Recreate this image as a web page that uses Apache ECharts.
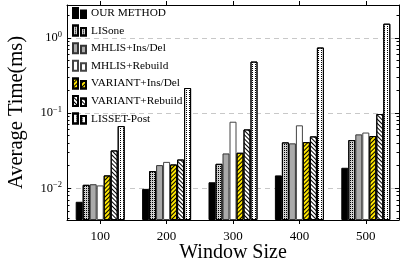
<!DOCTYPE html>
<html><head><meta charset="utf-8">
<script src="https://cdn.jsdelivr.net/npm/echarts@6/dist/echarts.min.js"></script>
<style>html,body{margin:0;padding:0;background:#fff}#c{width:400px;height:264px}</style>
</head><body><div id="c"></div>
<script>
const categories = ['100', '200', '300', '400', '500'];
const ourMethod      = [0.0066, 0.0098, 0.0120, 0.0148, 0.0187];
const lisone         = [0.0111, 0.0169, 0.0211, 0.0407, 0.0437];
const mhlisInsDel    = [0.0113, 0.0203, 0.0290, 0.0395, 0.0520];
const mhlisRebuild   = [0.0109, 0.0224, 0.0766, 0.0686, 0.0550];
const variantInsDel  = [0.0148, 0.0207, 0.0296, 0.0410, 0.0494];
const variantRebuild = [0.0318, 0.0241, 0.0605, 0.0489, 0.0970];
const lissetPost     = [0.0671, 0.215, 0.483, 0.743, 1.54];
const majorTicks = [0.01, 0.1, 1];
const minorTicks = [0.004, 0.005, 0.006, 0.007, 0.008, 0.009,
  0.02, 0.03, 0.04, 0.05, 0.06, 0.07, 0.08, 0.09,
  0.2, 0.3, 0.4, 0.5, 0.6, 0.7, 0.8, 0.9, 2];

const FONT = '"Liberation Serif", "DejaVu Serif", serif';
const yMin = 0.00378, yMax = 2.73;
function fmt(v) {
  const e = Math.round(Math.log10(v));
  return '10{s|' + (e < 0 ? '\u2212' : '') + Math.abs(e) + '}';
}
const dots = {symbol: 'rect', symbolSize: 1, dashArrayX: [1, 1], dashArrayY: [1, 1], color: '#000'};
const dots2 = {symbol: 'rect', symbolSize: 1, dashArrayX: [1, 2], dashArrayY: [1, 1], color: '#000'};
const ne = {symbol: 'rect', symbolSize: 1, dashArrayX: [1, 0], dashArrayY: [1, 2], rotation: -Math.PI / 4, color: '#000'};
const nw = {symbol: 'rect', symbolSize: 1, dashArrayX: [1, 0], dashArrayY: [1, 2], rotation: Math.PI / 4, color: '#000'};

function bar(name, data, style) {
  return {
    name, type: 'bar', data, barWidth: 7, barGap: '0%', xAxisIndex: 0, yAxisIndex: 0,
    itemStyle: Object.assign({borderColor: '#000', borderWidth: 1}, style),
    emphasis: {disabled: true}
  };
}
const series = [
  bar('OUR METHOD', ourMethod, {color: '#000'}),
  bar('LISone', lisone, {color: '#d0d0d0', decal: dots}),
  bar('MHLIS+Ins/Del', mhlisInsDel, {color: '#aaaaaa', borderColor: '#333'}),
  bar('MHLIS+Rebuild', mhlisRebuild, {color: '#fff', borderColor: '#444'}),
  bar('VARIANT+Ins/Del', variantInsDel, {color: '#ffe600', decal: ne}),
  bar('VARIANT+Rebuild', variantRebuild, {color: '#fff', decal: nw}),
  bar('LISSET-Post', lissetPost, {color: '#fff', decal: dots2})
];

const axisLine = {show: true, lineStyle: {color: '#000', width: 1}};
const yBase = {type: 'log', logBase: 10, min: yMin, max: yMax, startValue: yMin};
const chart = echarts.init(document.getElementById('c'), null, {renderer: 'canvas'});
chart.setOption({
  animation: false,
  backgroundColor: '#fff',
  grid: {left: 67, right: 1, top: 5, bottom: 44, containLabel: false, outerBoundsMode: 'none'},
  legend: {
    orient: 'vertical', left: 72, top: 7, padding: 0, itemGap: 5.6,
    itemWidth: 13, itemHeight: 10,
    icon: 'path://M0,0h5v10h-5z M8,2.5h5v7.5h-5z',
    textStyle: {fontFamily: FONT, fontSize: 11.3, color: '#000', lineHeight: 10},
    data: series.map(s => s.name)
  },
  xAxis: [
    {type: 'category', data: categories, position: 'bottom',
     axisLine, axisTick: {show: true, alignWithLabel: true, length: 4, lineStyle: {color: '#000'}},
     axisLabel: {fontFamily: FONT, fontSize: 13, color: '#000', margin: 10},
     name: 'Window Size', nameLocation: 'middle', nameGap: 23, nameMoveOverlap: false,
     nameTextStyle: {fontFamily: FONT, fontSize: 20, color: '#000'}},
    {type: 'category', data: categories, position: 'top',
     axisLine, axisTick: {show: true, alignWithLabel: true, length: 4, lineStyle: {color: '#000'}},
     axisLabel: {show: false}}
  ],
  yAxis: [
    Object.assign({}, yBase, {position: 'left', axisLine,
      axisTick: {show: true, inside: true, length: 4, customValues: majorTicks, lineStyle: {color: '#000'}},
      axisLabel: {customValues: majorTicks, formatter: fmt, fontFamily: FONT, fontSize: 12.5, color: '#000', margin: 5,
        rich: {s: {fontFamily: FONT, fontSize: 8.5, padding: [0, 0, 7, 0], color: '#000'}}},
      splitLine: {show: true, lineStyle: {color: '#c8c8c8', type: [5, 4], width: 1}},
      name: 'Average Time(ms)', nameLocation: 'middle', nameGap: 40, nameMoveOverlap: false,
      nameTextStyle: {fontFamily: FONT, fontSize: 20.5, color: '#000'}}),
    Object.assign({}, yBase, {position: 'left', axisLine: {show: false},
      axisTick: {show: true, inside: true, length: 2.5, customValues: minorTicks, lineStyle: {color: '#000'}},
      axisLabel: {show: false}, splitLine: {show: false}}),
    Object.assign({}, yBase, {position: 'right', axisLine,
      axisTick: {show: true, inside: true, length: 4, customValues: majorTicks, lineStyle: {color: '#000'}},
      axisLabel: {show: false}, splitLine: {show: false}}),
    Object.assign({}, yBase, {position: 'right', axisLine: {show: false},
      axisTick: {show: true, inside: true, length: 2.5, customValues: minorTicks, lineStyle: {color: '#000'}},
      axisLabel: {show: false}, splitLine: {show: false}})
  ],
  series
});
</script></body></html>
